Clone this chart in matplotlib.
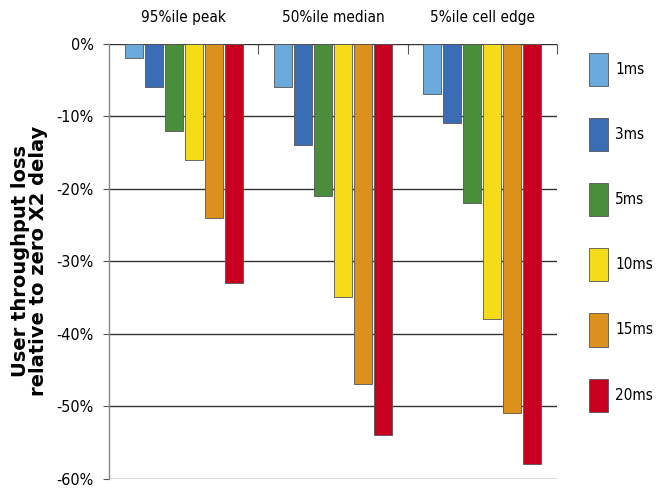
import numpy as np
import matplotlib
matplotlib.use('Agg')
from matplotlib import pyplot as plt

# Data
categories = ['95%ile peak', '50%ile median', '5%ile cell edge']
delays = ['1ms', '3ms', '5ms', '10ms', '15ms', '20ms']
loss_1ms = [-2, -6, -7]
loss_3ms = [-6, -14, -11]
loss_5ms = [-12, -21, -22]
loss_10ms = [-16, -35, -38]
loss_15ms = [-24, -47, -51]
loss_20ms = [-33, -54, -58]
series = [loss_1ms, loss_3ms, loss_5ms, loss_10ms, loss_15ms, loss_20ms]
colors = ['#69a9dc', '#3a6db3', '#4a8e3b', '#f6dc18', '#dc911c', '#c8001f']
y_ticks = [0, -10, -20, -30, -40, -50, -60]

fig = plt.figure(figsize=(6.62, 4.91), dpi=100)
ax = fig.add_axes([0.1647, 0.025, 0.8410 - 0.1647, 0.9114 - 0.025])

centers = np.arange(len(categories)) + 0.5
step = 0.134
width = 0.121
for i, (vals, col, lab) in enumerate(zip(series, colors, delays)):
    ax.bar(centers + (i - 2.5) * step, vals, width, color=col,
           edgecolor='#555555', linewidth=0.6, label=lab, zorder=3)

ax.set_xlim(0, 3)
ax.set_ylim(-60, 0)

# category labels on top, separators as small ticks
ax.xaxis.tick_top()
ax.set_xticks(centers)
ax.set_xticklabels(categories, fontsize=11, fontstretch='condensed')
ax.tick_params(axis='x', which='major', length=0, pad=13)
ax.set_xticks([1, 2, 3], minor=True)
ax.tick_params(axis='x', which='minor', direction='in', length=7,
               width=0.8, color='#555555')

ax.set_yticks(y_ticks)
ax.set_yticklabels([f'{v}%' for v in y_ticks], fontsize=11.5,
                   fontstretch='condensed')
ax.tick_params(axis='y', length=4, width=0.8, color='#555555', pad=7)

ax.yaxis.grid(True, color='#333333', linewidth=1.0, zorder=0)
ax.set_axisbelow(True)
for side in ['top', 'right', 'bottom']:
    ax.spines[side].set_visible(False)
ax.spines['left'].set_color('#888888')
ax.spines['left'].set_linewidth(1.0)

ax.set_ylabel('User throughput loss\nrelative to zero X2 delay',
              fontsize=14, fontweight='bold', labelpad=6, linespacing=0.95)

ax.legend(loc='upper left', bbox_to_anchor=(589 / 662, 1 - 53 / 491),
          bbox_transform=fig.transFigure, frameon=False,
          handlelength=1.25, handleheight=2.95, labelspacing=2.1,
          handletextpad=0.45, borderpad=0, borderaxespad=0,
          prop={'size': 11, 'stretch': 'condensed'})

fig.savefig('out.png', dpi=100)
